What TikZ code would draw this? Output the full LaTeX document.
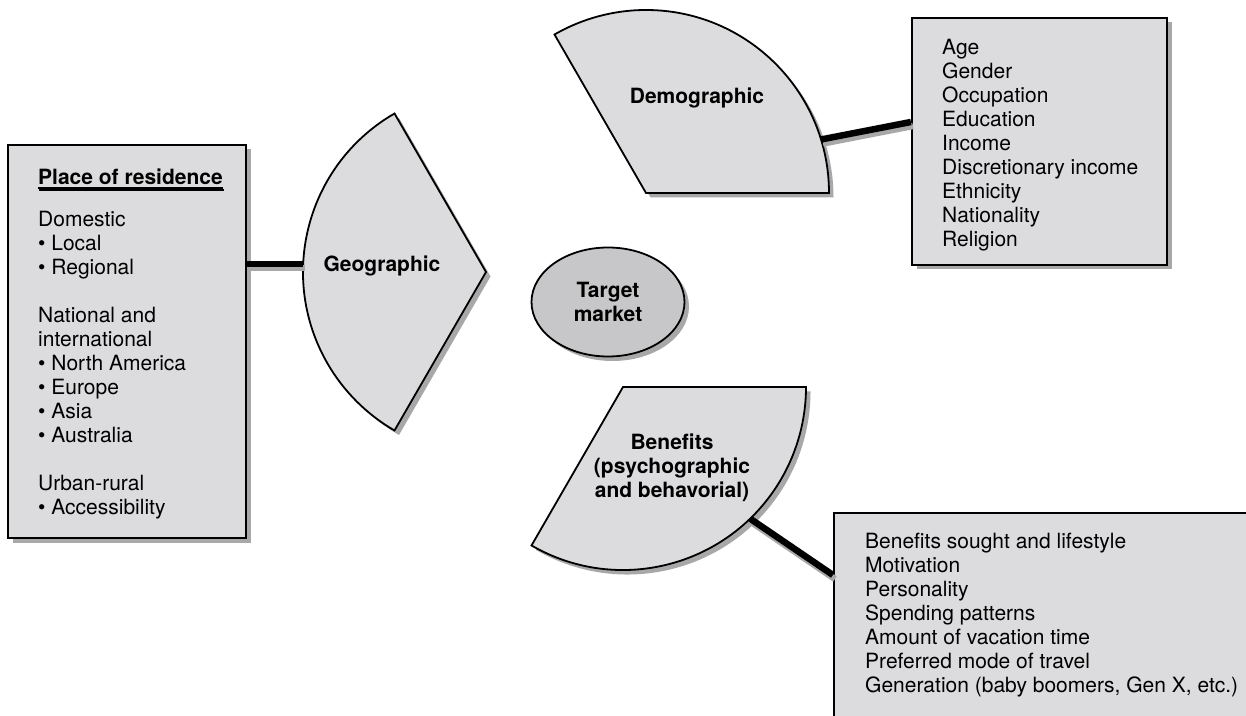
\documentclass[tikz,border=0pt]{standalone}
\usepackage{fontspec}
\setmainfont{TeX Gyre Heros}
\usetikzlibrary{shapes.geometric,shadows,calc}
\definecolor{panel}{HTML}{DCDCDE}
\definecolor{hub}{HTML}{C7C7C9}
\definecolor{shade}{HTML}{A8A8A8}
\tikzset{
  txt/.style={font=\fontsize{21}{24}\selectfont},
  shadowed/.style={drop shadow={shadow xshift=4.5pt,shadow yshift=-4.5pt,fill=shade,opacity=1}},
  listbox/.style={draw, line width=2.2pt, fill=panel, shadowed, inner sep=0},
  sector/.style={draw, line width=1.8pt, fill=panel, shadowed, line join=miter},
  seglabel/.style={font=\bfseries\fontsize{21}{24}\selectfont, align=center, inner sep=0},
  listtext/.style={txt, align=left, inner sep=0, anchor=north west},
  connector/.style={line width=6.5pt},
  connshade/.style={line width=6.5pt, draw=shade, transform canvas={xshift=2pt,yshift=-4pt}},
}
\begin{document}
\begin{tikzpicture}[x=1pt,y=1pt]
\clip (0,0) rectangle (1246,715);
\fill[white] (0,0) rectangle (1246,715);

% apexes of the three segment wedges
\coordinate (geoApex) at (486,443);
\coordinate (demoApex) at (646,522);
\coordinate (beneApex) at (623,328);

% segment wedges
\path[sector] (geoApex) -- ++(120:183) arc[start angle=120,end angle=240,radius=183] -- cycle;
\path[sector] (demoApex) -- ++(0:183) arc[start angle=0,end angle=120,radius=183] -- cycle;
\path[sector] (beneApex) -- ++(-120:183) arc[start angle=-120,end angle=0,radius=183] -- cycle;

\node[seglabel] (geo) at (382,449) {Geographic};
\node[seglabel] (demo) at (697,617) {Demographic};
\node[seglabel] (bene) at (672,247.5) {Benefits\\(psychographic\\and behavorial)};

% target market hub
\node[ellipse, draw, line width=1.8pt, fill=hub, shadowed, minimum width=153pt,
      minimum height=109pt, seglabel] (target) at (608,413) {Target\\market};

% place of residence box
\node[listbox, minimum width=238pt, minimum height=393pt] (resbox) at (127,373.5) {};
\node[anchor=base west, inner sep=0, font=\bfseries\fontsize{21}{24}\selectfont] (restitle) at (38,530) {Place of residence};
\draw[shade, line width=1.8pt] ([shift={(0.8pt,-4.8pt)}]restitle.base west) -- ([shift={(0.8pt,-4.8pt)}]restitle.base east);
\draw[line width=1.6pt] ([yshift=-2.8pt]restitle.base west) -- ([yshift=-2.8pt]restitle.base east);
\node[listtext] (restext) at (38,504) {Domestic\\
  \textbullet\ Local\\
  \textbullet\ Regional\\[24pt]
  National and\\
  international\\
  \textbullet\ North America\\
  \textbullet\ Europe\\
  \textbullet\ Asia\\
  \textbullet\ Australia\\[24pt]
  Urban-rural\\
  \textbullet\ Accessibility};

% demographic variables box
\node[listbox, minimum width=255pt, minimum height=247pt] (demobox) at (1039.5,573.5) {};
\node[listtext] (demotext) at (942,676) {Age\\Gender\\Occupation\\Education\\Income\\
  Discretionary income\\Ethnicity\\Nationality\\Religion};

% benefits variables box
\node[listbox, minimum width=436pt, minimum height=227pt] (benebox) at (1052,88.5) {};
\node[listtext] (benetext) at (865,182) {Benefits sought and lifestyle\\Motivation\\Personality\\
  Spending patterns\\Amount of vacation time\\Preferred mode of travel\\
  Generation (baby boomers, Gen X, etc.)};

% attachment points on the wedge arcs
\coordinate (geoW) at ($(geoApex)+(177.5:183)$);
\coordinate (demoE) at ($(demoApex)+(17:183)$);
\coordinate (beneE) at ($(beneApex)+(-46:183)$);

% connectors
\draw[connshade] (geoW) -- (geoW -| resbox.east);
\draw[connshade] (demoE) -- ($(demobox.west)+(0,19.5)$);
\draw[connshade] (beneE) -- ($(benebox.west)+(0,51.5)$);
\draw[connector] (geoW) -- (geoW -| resbox.east);
\draw[connector] (demoE) -- ($(demobox.west)+(0,19.5)$);
\draw[connector] (beneE) -- ($(benebox.west)+(0,51.5)$);
\end{tikzpicture}
\end{document}
